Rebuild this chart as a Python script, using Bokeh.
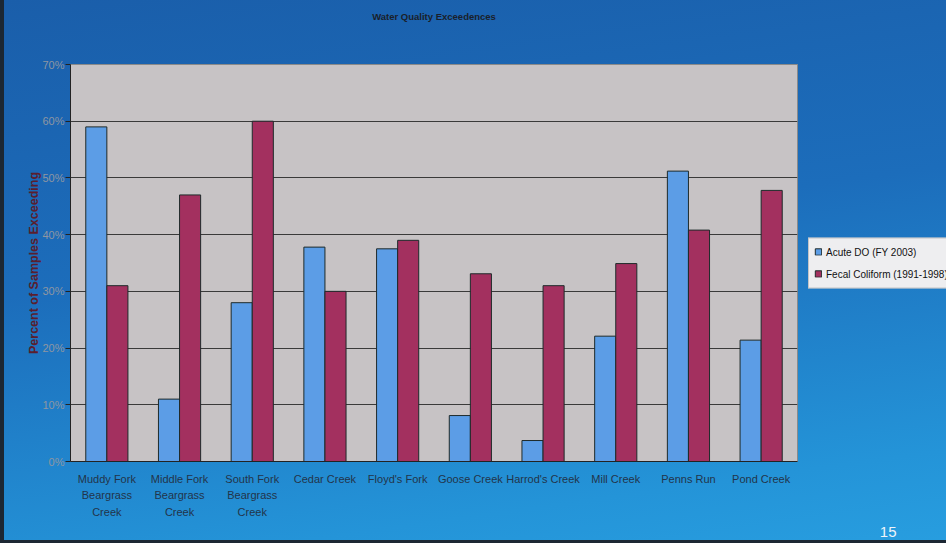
from bokeh.plotting import figure
from bokeh.models import (ColumnDataSource, Range1d, FixedTicker, PrintfTickFormatter,
                          Legend, LegendItem, Title)
from bokeh.transform import dodge
from bokeh.embed import file_html
from bokeh.resources import INLINE

# Sites sampled along the creeks
creeks = [
    "Muddy Fork\nBeargrass\nCreek",
    "Middle Fork\nBeargrass\nCreek",
    "South Fork\nBeargrass\nCreek",
    "Cedar Creek",
    "Floyd's Fork",
    "Goose Creek",
    "Harrod's Creek",
    "Mill Creek",
    "Penns Run",
    "Pond Creek",
]
# Percent of samples exceeding the standard
acute_do = [59.0, 11.0, 28.0, 37.8, 37.5, 8.1, 3.7, 22.1, 51.2, 21.4]
fecal_coliform = [31.0, 47.0, 60.0, 30.0, 39.0, 33.1, 31.0, 34.9, 40.8, 47.8]
y_ticks = [0, 10, 20, 30, 40, 50, 60, 70]

src = ColumnDataSource(dict(creek=creeks, do=acute_do, fc=fecal_coliform))

FONT = "Liberation Sans"

p = figure(width=946, height=543, frame_width=727, frame_height=397,
           x_range=creeks, y_range=Range1d(0, 70), title=None,
           output_backend="svg", toolbar_location=None,
           min_border_left=70, min_border_right=149,
           min_border_top=64, min_border_bottom=82)

p.border_fill_color = None
p.styles = {
    "background-image": "linear-gradient(172deg, #1a5eaa 0%, #1c6dbb 40%, #2494d8 78%, #2aa5e5 100%)",
    "box-shadow": "inset 4px -3px 0 #1c2733",
}
p.background_fill_color = "#c7c3c5"
p.outline_line_color = "#8a8a8a"

BAR_W = 0.29
r_do = p.vbar(x=dodge("creek", -BAR_W / 2, range=p.x_range), top="do", width=BAR_W,
              source=src, fill_color="#5c9de6", line_color="#1e2a2a", line_width=1)
r_fc = p.vbar(x=dodge("creek", BAR_W / 2, range=p.x_range), top="fc", width=BAR_W,
              source=src, fill_color="#a3305f", line_color="#1e2a2a", line_width=1)

# grid
p.xgrid.grid_line_color = None
p.ygrid.grid_line_color = "#3a3a3a"
p.ygrid.grid_line_width = 1
p.ygrid.ticker = FixedTicker(ticks=y_ticks)

# y axis
p.yaxis.ticker = FixedTicker(ticks=y_ticks)
p.yaxis.formatter = PrintfTickFormatter(format="%d%%")
p.yaxis.major_label_text_color = "#8e96a2"
p.yaxis.major_label_text_font = FONT
p.yaxis.major_label_text_font_size = "11px"
p.yaxis.major_label_standoff = 1
p.yaxis.axis_line_color = "#222222"
p.yaxis.major_tick_line_color = "#222222"
p.yaxis.major_tick_out = 5
p.yaxis.major_tick_in = 0
p.yaxis.minor_tick_line_color = None
p.yaxis.axis_label = "Percent of Samples Exceeding"
p.yaxis.axis_label_text_color = "#5a1e2e"
p.yaxis.axis_label_text_font = FONT
p.yaxis.axis_label_text_font_style = "bold"
p.yaxis.axis_label_text_font_size = "12.5px"
p.yaxis.axis_label_standoff = -2

# x axis
p.xaxis.axis_line_color = "#222222"
p.xaxis.major_tick_line_color = None
p.xaxis.major_label_text_color = "#22344a"
p.xaxis.major_label_text_font = FONT
p.xaxis.major_label_text_font_size = "11px"
p.xaxis.major_label_text_line_height = 1.4
p.xaxis.major_label_standoff = 5

# legend at the right of the plot frame
legend = Legend(items=[LegendItem(label="Acute DO (FY 2003)", renderers=[r_do]),
                       LegendItem(label="Fecal Coliform (1991-1998)", renderers=[r_fc])],
                location="center_left")
legend.background_fill_color = "#eeeef0"
legend.background_fill_alpha = 1
legend.border_line_color = "#9a9a9a"
legend.label_text_font = FONT
legend.label_text_font_size = "10px"
legend.label_text_color = "#111111"
legend.glyph_width = 8
legend.glyph_height = 8
legend.label_standoff = 4
legend.padding = 5
legend.spacing = 5
legend.margin = 11
legend.label_height = 17
p.add_layout(legend, "right")

# slide title, lifted away from the frame by an empty spacer line
p.add_layout(Title(text=" ", text_font_size="23px"), "above")
p.add_layout(Title(text="Water Quality Exceedences", align="center", text_font=FONT,
                   text_font_style="bold", text_font_size="9.5px", text_color="#1a1f2a"),
             "above")

# page number below the chart
p.add_layout(Title(text="15", align="right", offset=-99, text_font=FONT,
                   text_font_size="15px", text_font_style="normal",
                   vertical_align="top", text_color="#eef4fa"), "below")

open("out.html", "w").write(file_html(p, INLINE))
